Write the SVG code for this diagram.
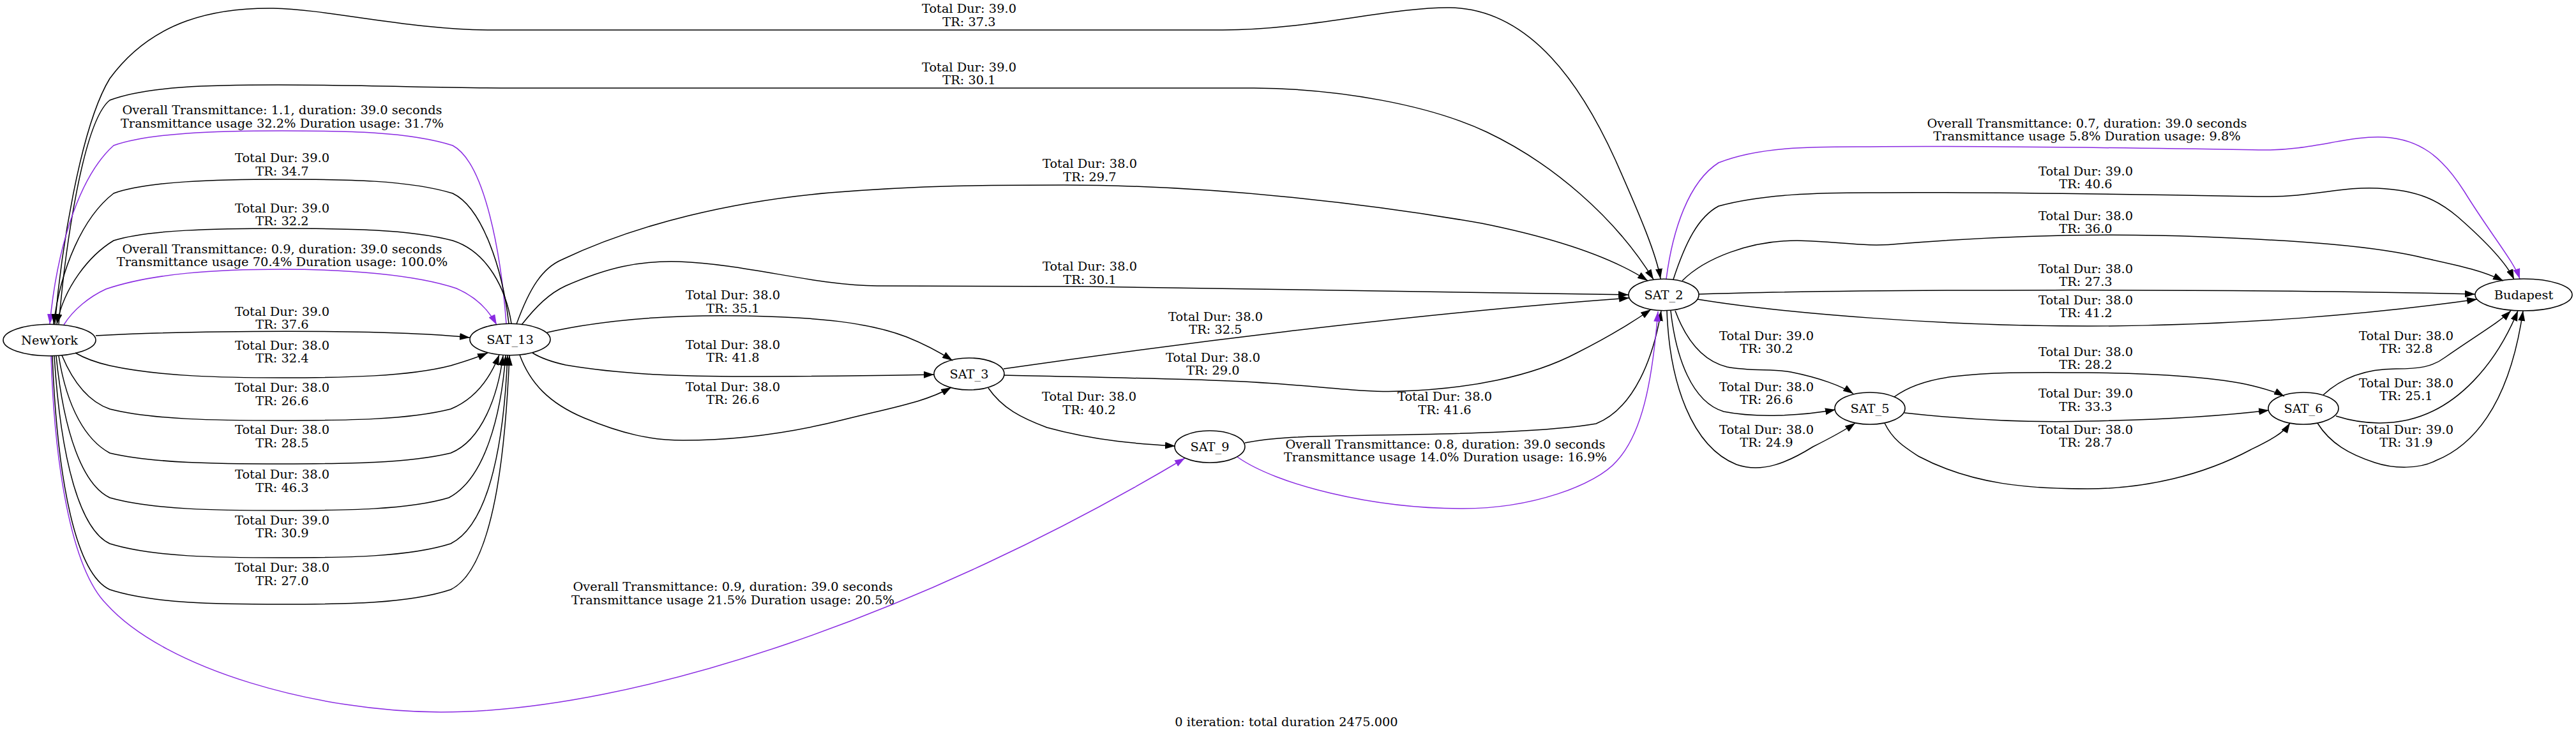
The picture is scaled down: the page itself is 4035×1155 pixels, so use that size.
<svg xmlns="http://www.w3.org/2000/svg" width="4035" height="1155" viewBox="0 0 4035 1155">
<style>
text{font-family:"DejaVu Serif",serif;font-size:19.4px;text-anchor:middle;fill:#000}
.e{fill:none;stroke:#000;stroke-width:1.5;marker-end:url(#ah)}
.p{fill:none;stroke:#8a2be2;stroke-width:1.5;marker-end:url(#ahp)}
.n ellipse{fill:none;stroke:#000;stroke-width:1.6}
</style>
<defs>
<marker id="ah" markerUnits="userSpaceOnUse" markerWidth="16" markerHeight="11" refX="16" refY="5.5" orient="auto"><path d="M0,0 L16,5.5 L0,11 Z" fill="#000"/></marker>
<marker id="ahp" markerUnits="userSpaceOnUse" markerWidth="16" markerHeight="11" refX="16" refY="5.5" orient="auto"><path d="M0,0 L16,5.5 L0,11 Z" fill="#8a2be2"/></marker>
</defs>
<rect width="4035" height="1155" fill="#fff"/>
<g id="edges">
<g id="e_ny_s2_373"><path class="e" d="M86,508 C95,400 125,200 172,123 C240,30 340,12 428,13 C520,15 640,47 775,47 L1915,47 C2050,47 2180,11 2271,12 C2400,14 2480,140 2530,250 C2570,340 2595,400 2601,437"/><text x="1518" y="20">Total Dur: 39.0<tspan x="1518" y="41">TR: 37.3</tspan></text></g>
<g id="e_ny_s2_301"><path class="e" d="M92,508 C102,390 130,190 172,157 C230,135 330,133 436,133 C560,133 700,138 804,138 L1964,138 C2100,139 2240,165 2329,207 C2430,255 2530,340 2590,438"/><text x="1518" y="112">Total Dur: 39.0<tspan x="1518" y="132">TR: 30.1</tspan></text></g>
<g id="e_s13_ny_11"><path class="p" d="M793,507 C785,400 760,255 709,228 C640,206 540,205 442,205 C340,205 235,208 178,228 C120,280 88,400 78,508"/><text x="442" y="179">Overall Transmittance: 1.1, duration: 39.0 seconds<tspan x="442" y="200">Transmittance usage 32.2% Duration usage: 31.7%</tspan></text></g>
<g id="e_s13_ny_347"><path class="e" d="M797,507 C787,420 755,325 709,303 C640,282 540,281 442,281 C340,281 230,284 178,303 C130,340 95,420 84,508"/><text x="442" y="254">Total Dur: 39.0<tspan x="442" y="275">TR: 34.7</tspan></text></g>
<g id="e_s13_ny_322"><path class="e" d="M801,507 C793,455 765,395 709,377 C640,359 540,358 442,358 C340,358 230,360 178,377 C140,400 100,450 89,508"/><text x="442" y="333">Total Dur: 39.0<tspan x="442" y="353">TR: 32.2</tspan></text></g>
<g id="e_ny_s13_09"><path class="p" d="M100,509 C115,485 140,465 166,453 C240,428 340,422 442,422 C540,422 650,430 715,452 C745,465 765,485 778,509"/><text x="442" y="397">Overall Transmittance: 0.9, duration: 39.0 seconds<tspan x="442" y="417">Transmittance usage 70.4% Duration usage: 100.0%</tspan></text></g>
<g id="e_ny_s13_376"><path class="e" d="M150,526 C300,518 600,515 736,529"/><text x="442" y="495">Total Dur: 39.0<tspan x="442" y="515">TR: 37.6</tspan></text></g>
<g id="e_ny_s13_324"><path class="e" d="M118,553 C135,563 150,568 172,573 C250,590 350,592 442,592 C540,592 640,590 706,573 C730,566 748,560 764,553"/><text x="442" y="548">Total Dur: 38.0<tspan x="442" y="568">TR: 32.4</tspan></text></g>
<g id="e_ny_s13_266"><path class="e" d="M97,557 C115,600 140,630 172,641 C240,658 340,659 442,659 C540,659 640,658 706,641 C745,625 768,592 782,556"/><text x="442" y="614">Total Dur: 38.0<tspan x="442" y="635">TR: 26.6</tspan></text></g>
<g id="e_ny_s13_285"><path class="e" d="M92,558 C105,640 135,690 172,710 C240,726 340,727 442,727 C540,727 640,726 706,710 C755,690 780,620 788,557"/><text x="442" y="680">Total Dur: 38.0<tspan x="442" y="701">TR: 28.5</tspan></text></g>
<g id="e_ny_s13_463"><path class="e" d="M88,558 C100,680 130,760 172,780 C240,799 340,800 442,800 C540,800 640,799 703,780 C760,750 785,650 792,557"/><text x="442" y="750">Total Dur: 38.0<tspan x="442" y="771">TR: 46.3</tspan></text></g>
<g id="e_ny_s13_309"><path class="e" d="M85,558 C95,720 125,830 172,852 C240,873 340,874 442,874 C540,874 640,873 706,852 C770,820 790,680 795,557"/><text x="442" y="822">Total Dur: 39.0<tspan x="442" y="842">TR: 30.9</tspan></text></g>
<g id="e_ny_s13_270"><path class="e" d="M82,558 C90,760 120,900 172,924 C240,946 340,947 442,947 C540,947 640,946 706,924 C775,890 792,700 798,557"/><text x="442" y="896">Total Dur: 38.0<tspan x="442" y="917">TR: 27.0</tspan></text></g>
<g id="e_ny_s9_09"><path class="p" d="M80,558 C85,720 110,890 167,947 C260,1050 500,1116 691,1116 C1000,1116 1450,960 1856,718"/><text x="1148" y="926">Overall Transmittance: 0.9, duration: 39.0 seconds<tspan x="1148" y="947">Transmittance usage 21.5% Duration usage: 20.5%</tspan></text></g>
<g id="e_s13_s2_297"><path class="e" d="M809,508 C830,450 850,420 880,407 C1000,350 1150,315 1300,302 C1450,290 1550,290 1666,290 C1900,290 2150,320 2321,350 C2430,372 2520,400 2581,440"/><text x="1707" y="263">Total Dur: 38.0<tspan x="1707" y="284">TR: 29.7</tspan></text></g>
<g id="e_s13_s2_301"><path class="e" d="M817,509 C840,480 860,460 886,448 C950,420 1000,408 1064,410 C1170,414 1280,448 1374,448 L1700,449 C2000,451 2300,456 2551,462"/><text x="1707" y="424">Total Dur: 38.0<tspan x="1707" y="445">TR: 30.1</tspan></text></g>
<g id="e_s13_s3_351"><path class="e" d="M857,521 C950,500 1060,493 1167,495 C1280,497 1360,505 1420,528 C1450,540 1472,552 1492,565"/><text x="1148" y="469">Total Dur: 38.0<tspan x="1148" y="490">TR: 35.1</tspan></text></g>
<g id="e_s13_s3_418"><path class="e" d="M834,553 C850,563 868,568 886,572 C980,588 1080,590 1167,590 C1300,590 1400,588 1463,587"/><text x="1148" y="547">Total Dur: 38.0<tspan x="1148" y="567">TR: 41.8</tspan></text></g>
<g id="e_s13_s3_266"><path class="e" d="M814,556 C830,600 860,632 915,655 C975,680 1020,690 1070,690 C1160,690 1240,678 1320,658 C1400,638 1450,630 1490,607"/><text x="1148" y="613">Total Dur: 38.0<tspan x="1148" y="633">TR: 26.6</tspan></text></g>
<g id="e_s3_s2_325"><path class="e" d="M1572,578 C1800,545 2200,492 2552,467"/><text x="1904" y="503">Total Dur: 38.0<tspan x="1904" y="523">TR: 32.5</tspan></text></g>
<g id="e_s3_s2_290"><path class="e" d="M1572,588 C1700,591 1830,593 1925,597 C2050,602 2130,616 2193,613 C2300,610 2400,590 2470,553 C2520,528 2560,503 2586,485"/><text x="1900" y="567">Total Dur: 38.0<tspan x="1900" y="587">TR: 29.0</tspan></text></g>
<g id="e_s3_s9_402"><path class="e" d="M1548,608 C1570,640 1600,655 1640,670 C1720,692 1790,696 1841,699"/><text x="1706" y="628">Total Dur: 38.0<tspan x="1706" y="649">TR: 40.2</tspan></text></g>
<g id="e_s9_s2_416"><path class="e" d="M1950,694 C2000,684 2050,684 2150,682 C2300,680 2430,676 2500,664 C2560,640 2590,560 2602,487"/><text x="2263" y="628">Total Dur: 38.0<tspan x="2263" y="649">TR: 41.6</tspan></text></g>
<g id="e_s9_s2_08"><path class="p" d="M1938,716 C2000,760 2150,797 2291,797 C2400,797 2500,760 2532,723 C2572,680 2588,600 2597,488"/><text x="2264" y="703">Overall Transmittance: 0.8, duration: 39.0 seconds<tspan x="2264" y="723">Transmittance usage 14.0% Duration usage: 16.9%</tspan></text></g>
<g id="e_s2_bp_07"><path class="p" d="M2610,437 C2620,360 2645,285 2692,255 C2760,228 2850,230 2929,230 C3100,228 3350,232 3544,235 C3620,236 3680,212 3734,215 C3790,218 3825,245 3860,300 C3900,365 3938,410 3947,437"/><text x="3269" y="200">Overall Transmittance: 0.7, duration: 39.0 seconds<tspan x="3269" y="220">Transmittance usage 5.8% Duration usage: 9.8%</tspan></text></g>
<g id="e_s2_bp_406"><path class="e" d="M2621,438 C2640,380 2660,340 2692,323 C2760,304 2850,302 2929,302 C3100,300 3350,305 3544,308 C3620,309 3670,292 3724,295 C3790,298 3820,315 3850,340 C3890,375 3925,410 3938,438"/><text x="3267" y="275">Total Dur: 39.0<tspan x="3267" y="295">TR: 40.6</tspan></text></g>
<g id="e_s2_bp_360"><path class="e" d="M2635,440 C2670,405 2740,377 2815,377 C2880,378 2920,388 2976,382 C3150,368 3300,365 3450,371 C3600,377 3720,385 3800,405 C3860,418 3890,425 3921,440"/><text x="3267" y="345">Total Dur: 38.0<tspan x="3267" y="365">TR: 36.0</tspan></text></g>
<g id="e_s2_bp_273"><path class="e" d="M2661,461 C2900,453 3500,452 3877,461"/><text x="3267" y="428">Total Dur: 38.0<tspan x="3267" y="448">TR: 27.3</tspan></text></g>
<g id="e_s2_bp_412"><path class="e" d="M2659,469 C2800,492 3050,511 3270,511 C3500,511 3720,492 3880,469"/><text x="3267" y="477">Total Dur: 38.0<tspan x="3267" y="497">TR: 41.2</tspan></text></g>
<g id="e_s2_s5_302"><path class="e" d="M2624,487 C2640,530 2665,565 2705,575 C2740,582 2780,578 2805,583 C2850,592 2885,605 2903,617"/><text x="2767" y="533">Total Dur: 39.0<tspan x="2767" y="553">TR: 30.2</tspan></text></g>
<g id="e_s2_s5_266"><path class="e" d="M2617,487 C2625,560 2650,630 2700,645 C2750,655 2820,652 2875,642"/><text x="2767" y="613">Total Dur: 38.0<tspan x="2767" y="633">TR: 26.6</tspan></text></g>
<g id="e_s2_s5_249"><path class="e" d="M2611,487 C2615,600 2650,700 2720,728 C2760,742 2800,725 2840,700 C2870,685 2893,672 2906,663"/><text x="2767" y="680">Total Dur: 38.0<tspan x="2767" y="700">TR: 24.9</tspan></text></g>
<g id="e_s5_s6_282"><path class="e" d="M2967,622 C2990,605 3020,595 3060,590 C3130,582 3200,584 3270,584 C3380,585 3480,592 3530,605 C3550,610 3565,614 3578,621"/><text x="3267" y="558">Total Dur: 38.0<tspan x="3267" y="578">TR: 28.2</tspan></text></g>
<g id="e_s5_s6_333"><path class="e" d="M2983,647 C3100,660 3200,662 3270,660 C3380,658 3480,652 3554,643"/><text x="3267" y="623">Total Dur: 39.0<tspan x="3267" y="644">TR: 33.3</tspan></text></g>
<g id="e_s5_s6_287"><path class="e" d="M2952,663 C2965,690 2985,702 3005,715 C3090,760 3180,766 3270,766 C3360,766 3450,745 3525,705 C3555,690 3576,680 3587,663"/><text x="3267" y="680">Total Dur: 38.0<tspan x="3267" y="700">TR: 28.7</tspan></text></g>
<g id="e_s6_bp_328"><path class="e" d="M3639,619 C3670,590 3710,578 3753,578 C3790,578 3810,575 3830,560 C3880,525 3915,505 3933,487"/><text x="3769" y="533">Total Dur: 38.0<tspan x="3769" y="553">TR: 32.8</tspan></text></g>
<g id="e_s6_bp_251"><path class="e" d="M3659,652 C3700,665 3740,665 3772,658 C3850,640 3910,570 3944,487"/><text x="3769" y="607">Total Dur: 38.0<tspan x="3769" y="627">TR: 25.1</tspan></text></g>
<g id="e_s6_bp_319"><path class="e" d="M3630,663 C3650,695 3680,712 3720,725 C3750,735 3790,735 3815,722 C3870,700 3930,640 3952,487"/><text x="3769" y="680">Total Dur: 39.0<tspan x="3769" y="700">TR: 31.9</tspan></text></g>
</g>
<g id="node_NewYork" class="n"><ellipse cx="77.5" cy="533" rx="72.5" ry="24.7"/><text x="77.5" y="540">NewYork</text></g>
<g id="node_SAT_13" class="n"><ellipse cx="799" cy="532" rx="63" ry="24.7"/><text x="799" y="539">SAT_13</text></g>
<g id="node_SAT_3" class="n"><ellipse cx="1518" cy="586" rx="55" ry="25"/><text x="1518" y="593">SAT_3</text></g>
<g id="node_SAT_9" class="n"><ellipse cx="1895" cy="700" rx="55" ry="25"/><text x="1895" y="707">SAT_9</text></g>
<g id="node_SAT_2" class="n"><ellipse cx="2606" cy="462" rx="55" ry="24.7"/><text x="2606" y="469">SAT_2</text></g>
<g id="node_Budapest" class="n"><ellipse cx="3953" cy="462" rx="76" ry="25"/><text x="3953" y="469">Budapest</text></g>
<g id="node_SAT_5" class="n"><ellipse cx="2929" cy="640" rx="55" ry="25"/><text x="2929" y="647">SAT_5</text></g>
<g id="node_SAT_6" class="n"><ellipse cx="3608" cy="640" rx="55" ry="25"/><text x="3608" y="647">SAT_6</text></g>
<text id="title" x="2015" y="1138">0 iteration: total duration 2475.000</text>
</svg>
